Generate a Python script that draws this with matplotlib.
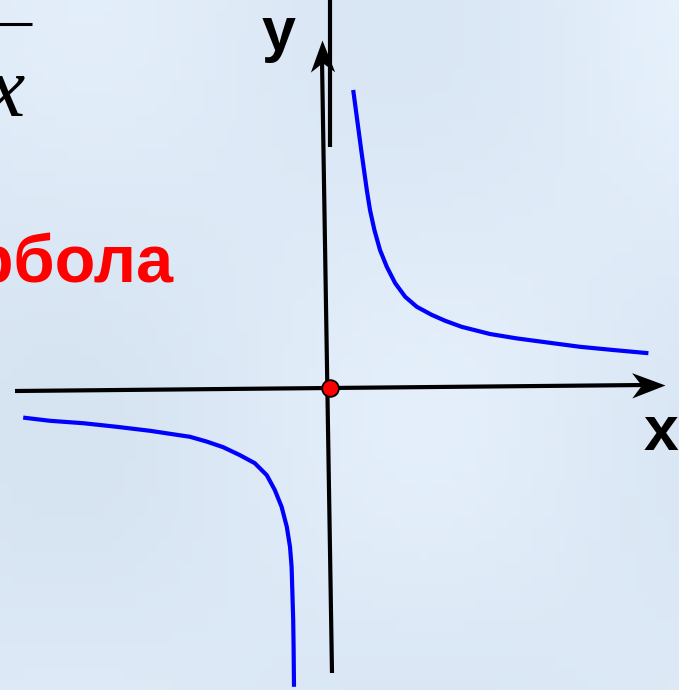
import matplotlib
matplotlib.use("Agg")
import matplotlib.pyplot as plt
import numpy as np
from matplotlib.path import Path
from matplotlib.markers import MarkerStyle
from matplotlib.transforms import Affine2D
from matplotlib.colors import LinearSegmentedColormap

# ---- data (units: 1 = 40 px, origin at the red dot) ----
right_x = [0.58, 0.68, 0.78, 0.85, 0.92, 1.00, 1.11, 1.25, 1.42, 1.63, 1.88,
           2.17, 2.54, 2.88, 3.29, 4.00, 4.67, 5.42, 6.25, 7.08, 7.96]
right_y = [7.45, 6.70, 5.95, 5.45, 4.95, 4.45, 3.95, 3.45, 3.03, 2.62, 2.28,
           2.03, 1.83, 1.68, 1.53, 1.35, 1.24, 1.14, 1.03, 0.95, 0.87]
left_x = [-7.67, -7.00, -6.17, -5.33, -4.50, -3.50, -3.08, -2.67, -2.25, -1.88,
          -1.58, -1.38, -1.21, -1.08, -1.00, -0.96, -0.94, -0.92, -0.91, -0.90]
left_y = [-0.74, -0.82, -0.88, -0.97, -1.07, -1.22, -1.34, -1.48, -1.68, -1.88,
          -2.18, -2.55, -2.97, -3.47, -3.97, -4.47, -5.13, -5.80, -6.47, -7.47]
origin = (0.0, 0.0)
title_word = "гипербола"
x_label = "x"
y_label = "y"

# ---- figure ----
W, H = 679, 690
fig = plt.figure(figsize=(W / 100, H / 100), dpi=100)
bg = "#dde9f6"
fig.patch.set_facecolor(bg)
ax = fig.add_axes([0, 0, 1, 1])
ax.set_facecolor(bg)
S = 40.0
ox, oy = 330, 388
ax.set_xlim(-ox / S, (W - ox) / S)
ax.set_ylim((oy - H) / S, oy / S)
ax.set_axis_off()


def px(x, y):
    return ((x - ox) / S, (oy - y) / S)


# soft background shading
gy, gx = np.mgrid[0:1:60j, 0:1:60j]
shade = 0.5 + 0.2 * np.sin(gx * 6.0 + 1.0) * np.cos(gy * 5.0) + 0.2 * gx * (1 - gy)
cmap = LinearSegmentedColormap.from_list("bg", ["#d6e3f1", "#e6f1fc"])
ax.imshow(shade, extent=[-ox / S, (W - ox) / S, (oy - H) / S, oy / S],
          cmap=cmap, aspect="auto", zorder=0, origin="upper")

# concave arrowhead marker (tip at the origin of the path)
head = Path([(0, 0), (-1.0, 0.38), (-0.71, 0), (-1.0, -0.38), (0, 0)],
            [Path.MOVETO, Path.LINETO, Path.LINETO, Path.LINETO, Path.CLOSEPOLY])


def arrow_marker(angle):
    return MarkerStyle(head, transform=Affine2D().rotate_deg(angle))


# x axis
x0, x1 = px(15, 391), px(665, 385)
ax.plot([x0[0], x1[0] - 0.5], [x0[1], x1[1]], color="black", lw=3, zorder=3,
        solid_capstyle="butt")
ang_x = np.degrees(np.arctan2(x1[1] - x0[1], x1[0] - x0[0]))
ax.plot([x1[0]], [x1[1]], marker=arrow_marker(ang_x), markersize=48,
        color="black", markeredgewidth=0, linestyle="none", zorder=3)

# y axis
y0, y1 = px(332, 673), px(322, 40)
ax.plot([y0[0], y1[0]], [y0[1], y1[1] - 0.5], color="black", lw=3, zorder=3,
        solid_capstyle="butt")
ang_y = np.degrees(np.arctan2(y1[1] - y0[1], y1[0] - y0[0]))
ax.plot([y1[0]], [y1[1]], marker=arrow_marker(ang_y), markersize=46,
        color="black", markeredgewidth=0, linestyle="none", zorder=3)

# extra short vertical stroke at top
s0, s1 = px(330, -5), px(330, 147)
ax.plot([s0[0], s1[0]], [s0[1], s1[1]], color="black", lw=3,
        solid_capstyle="butt", zorder=3)

# hyperbola branches
ax.plot(right_x, right_y, color="#0000ff", lw=3, zorder=4,
        solid_capstyle="butt", solid_joinstyle="round")
ax.plot(left_x, left_y, color="#0000ff", lw=3, zorder=4,
        solid_capstyle="butt", solid_joinstyle="round")

# origin point
ax.plot([origin[0]], [origin[1]], "o", color="#ff0000", markersize=12,
        markeredgecolor="black", markeredgewidth=1.3, zorder=5)

# labels
ax.text(*px(262, 50), y_label, fontsize=44, fontweight="bold",
        family="Liberation Sans", ha="left", va="baseline", zorder=6)
ax.text(*px(644, 450), x_label, fontsize=45, fontweight="bold",
        family="Liberation Sans", ha="left", va="baseline", zorder=6)
ax.text(*px(174, 282), title_word, fontsize=48, fontweight="bold",
        color="#ff0000", family="Liberation Sans", ha="right", va="baseline", zorder=6)

# fraction (k / x) fragment at top-left
fa, fb = px(-40, 24), px(32, 24)
ax.plot([fa[0], fb[0]], [fa[1], fb[1]], color="black", lw=2.2, zorder=6,
        solid_capstyle="butt")
ax.text(*px(24, 116), "x", fontsize=62, fontstyle="italic",
        family="Liberation Serif", ha="right", va="baseline", zorder=6)

fig.savefig("out.png", dpi=100, facecolor=fig.get_facecolor())
